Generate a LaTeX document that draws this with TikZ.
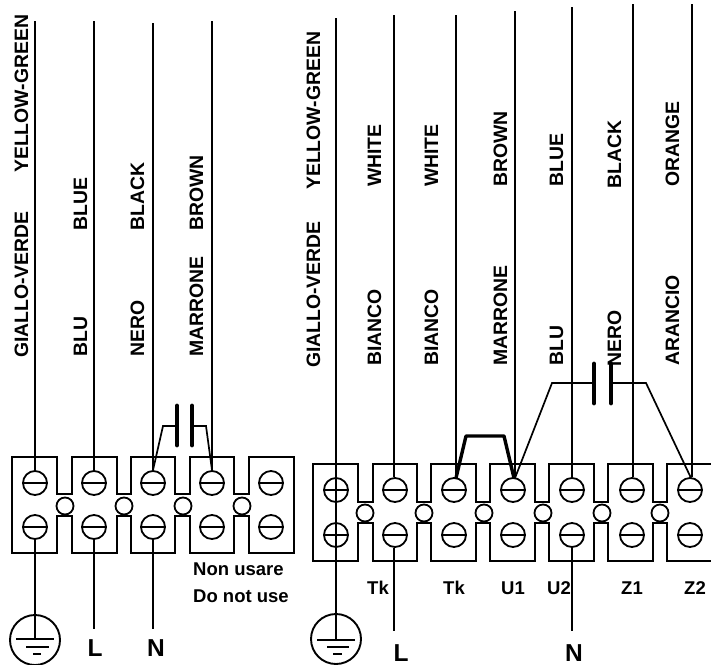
\documentclass[tikz,border=0pt]{standalone}
\usepackage{fontspec}
\setmainfont{Liberation Sans}
\tikzset{
  wire/.style={line width=1.9pt},
  thin wire/.style={line width=1.7pt},
  outline/.style={line width=1.9pt, line join=miter},
  bridge/.style={line width=3.4pt, line join=round},
  plate/.style={line width=4.8pt, line cap=round},
  screw/.style={circle, draw, line width=1.8pt, minimum size=24pt, inner sep=0pt,
    path picture={\draw[line width=1.5pt] (path picture bounding box.west) -- (path picture bounding box.east);}},
  hole/.style={circle, draw, line width=1.8pt, minimum size=17pt, inner sep=0pt},
  earthring/.style={circle, draw, line width=1.9pt, minimum size=50pt, inner sep=0pt},
  vlabel/.style={rotate=90, anchor=base west, inner sep=0pt, font=\fontsize{19.4}{21}\selectfont\bfseries},
  tlabel/.style={anchor=base, inner sep=0pt, font=\fontsize{18.5}{20}\selectfont\bfseries},
  nlabel/.style={anchor=base west, inner sep=0pt, font=\fontsize{18.5}{20}\selectfont\bfseries},
  biglabel/.style={anchor=base, inner sep=0pt, font=\fontsize{24.5}{26}\selectfont\bfseries},
}
\begin{document}
\begin{tikzpicture}[x=1pt,y=-1pt]
\useasboundingbox (0,0) rectangle (711,664);
% left block outline
\draw[outline] (12,457) -- (57,457) -- (57,494) -- (72,494) -- (72,457) -- (117,457) -- (117,494) -- (131,494) -- (131,457) -- (175,457) -- (175,494) -- (190,494) -- (190,457) -- (234,457) -- (234,494) -- (249,494) -- (249,457) -- (294,457)
  -- (294,553) -- (249,553) -- (249,516) -- (234,516) -- (234,553) -- (190,553) -- (190,516) -- (175,516) -- (175,553) -- (131,553) -- (131,516) -- (117,516) -- (117,553) -- (72,553) -- (72,516) -- (57,516) -- (57,553) -- (12,553) -- cycle;
% left screws and holes
\foreach \n/\x in {1/35,2/94,3/153,4/212,5/271} {
  \node[screw] (lt\n) at (\x,483) {};
  \node[screw] (lb\n) at (\x,527) {};
}
\foreach \n/\x in {1/65,2/124,3/183,4/242} \node[hole] (lh\n) at (\x,506) {};
% left wires
\coordinate (lw1) at (35,21);
\coordinate (lw2) at (94,21);
\coordinate (lw3) at (153,23);
\coordinate (lw4) at (212,21);
\foreach \n in {1,2,3,4} \draw[wire] (lw\n) -- (lt\n.north);
\node[earthring] (le) at (35,640) {};
\coordinate (lL) at (94,629);
\coordinate (lN) at (153,629);
\draw[wire] (lb1.south) -- (le.center);
\draw[wire] (lb2.south) -- (lL);
\draw[wire] (lb3.south) -- (lN);
\draw[wire] (16,639) -- (54,639);
\draw[wire] (26,647) -- (49,647);
\draw[wire] (33,654) -- (41,654);
% left capacitor
\coordinate (lc1) at (177,426);
\coordinate (lc2) at (192,426);
\draw[plate] (177,406) -- (177,445);
\draw[plate] (192,406) -- (192,445);
\draw[thin wire] (lt3.north) -- (163,426) -- (lc1);
\draw[thin wire] (lc2) -- (206,426) -- (lt4.north);
% left labels
\node[vlabel] (a1) at (28,173) {YELLOW-GREEN};
\node[vlabel] (a2) at (28,358) {GIALLO-VERDE};
\node[vlabel] (a3) at (87,231) {BLUE};
\node[vlabel] (a4) at (87,357) {BLU};
\node[vlabel] (a5) at (144,231) {BLACK};
\node[vlabel] (a6) at (144,357) {NERO};
\node[vlabel] (a7) at (203,231) {BROWN};
\node[vlabel] (a8) at (203,357) {MARRONE};
\node[nlabel] (a9) at (193,575) {Non usare};
\node[nlabel] (a10) at (193,602) {Do not use};
\node[biglabel] (a11) at (95,656) {L};
\node[biglabel] (a12) at (156,656) {N};
% right block outline
\draw[outline] (711,464) -- (667,464) -- (667,502) -- (653,502) -- (653,464) -- (608,464) -- (608,502) -- (594,502) -- (594,464) -- (549,464) -- (549,502) -- (535,502) -- (535,464) -- (490,464) -- (490,502) -- (476,502) -- (476,464) -- (431,464) -- (431,502) -- (417,502) -- (417,464) -- (373,464) -- (373,502) -- (358,502) -- (358,464) -- (313,464)
  -- (313,561) -- (358,561) -- (358,523) -- (373,523) -- (373,561) -- (417,561) -- (417,523) -- (431,523) -- (431,561) -- (476,561) -- (476,523) -- (490,523) -- (490,561) -- (535,561) -- (535,523) -- (549,523) -- (549,561) -- (594,561) -- (594,523) -- (608,523) -- (608,561) -- (653,561) -- (653,523) -- (667,523) -- (667,561) -- (711,561);
% right screws and holes
\foreach \n/\x in {1/336,2/395,3/454,4/513,5/572,6/632,7/690} {
  \node[screw] (rt\n) at (\x,490) {};
  \node[screw] (rb\n) at (\x,535) {};
}
\foreach \n/\x in {1/365,2/424,3/484,4/543,5/602,6/660} \node[hole] (rh\n) at (\x,513) {};
% right wires
\coordinate (rw1) at (336,18);
\coordinate (rw2) at (394,15);
\coordinate (rw3) at (456,15);
\coordinate (rw4) at (515,11);
\coordinate (rw5) at (572,7);
\coordinate (rw6) at (633,4);
\coordinate (rw7) at (692,4);
\node[earthring] (re) at (336,639) {};
\draw[wire] (rw1) -- (re.center);
\foreach \n in {2,...,7} \draw[wire] (rw\n) -- (rw\n |- rt\n.north);
\coordinate (rL) at (394,631);
\coordinate (rN) at (572,631);
\draw[wire] (rL |- rb2.south) -- (rL);
\draw[wire] (rb5.south) -- (rN);
\draw[wire] (317,640) -- (355,640);
\draw[wire] (327,647) -- (349,647);
\draw[wire] (333,654) -- (342,654);
% bridge
\draw[bridge] (456,478) -- (466,436) -- (504,436) -- (514,478);
% right capacitor
\coordinate (rc1) at (594,383);
\coordinate (rc2) at (611,383);
\draw[plate] (594,364) -- (594,403);
\draw[plate] (611,364) -- (611,403);
\draw[thin wire] (515,478) -- (552,383) -- (rc1);
\draw[thin wire] (rc2) -- (646,383) -- (691,478);
% right labels
\node[vlabel] (b1) at (320,190) {YELLOW-GREEN};
\node[vlabel] (b2) at (320,368) {GIALLO-VERDE};
\node[vlabel] (b3) at (381,187) {WHITE};
\node[vlabel] (b4) at (381,366) {BIANCO};
\node[vlabel] (b5) at (438,187) {WHITE};
\node[vlabel] (b6) at (438,366) {BIANCO};
\node[vlabel] (b7) at (507,187) {BROWN};
\node[vlabel] (b8) at (507,366) {MARRONE};
\node[vlabel] (b9) at (563,187) {BLUE};
\node[vlabel] (b10) at (563,366) {BLU};
\node[vlabel] (b11) at (621,189) {BLACK};
\node[vlabel] (b12) at (621,367) {NERO};
\node[vlabel] (b13) at (679,187) {ORANGE};
\node[vlabel] (b14) at (679,366) {ARANCIO};
\node[tlabel] (c1) at (378,594) {Tk};
\node[tlabel] (c2) at (454,594) {Tk};
\node[tlabel] (c3) at (513,594) {U1};
\node[tlabel] (c4) at (559,594) {U2};
\node[tlabel] (c5) at (632,594) {Z1};
\node[tlabel] (c6) at (695,594) {Z2};
\node[biglabel] (c7) at (401,661) {L};
\node[biglabel] (c8) at (574,661) {N};
\end{tikzpicture}
\end{document}
